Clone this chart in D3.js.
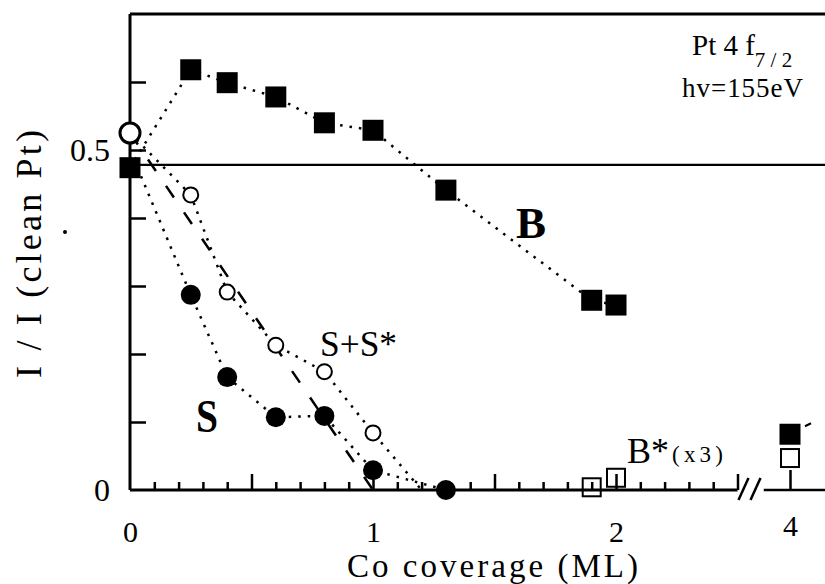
<!DOCTYPE html>
<html lang="en">
<head>
    <meta charset="UTF-8">
    <title>Pt 4f7/2 intensity vs Co coverage</title>
    <script src="https://d3js.org/d3.v7.min.js"></script>
    <style>
        body { margin: 0; background: #fff; }
        svg { display: block; }
        text { font-family: "Liberation Serif", "DejaVu Serif", serif; fill: #000; }
        .axis path { display: none; }
        .axis line { stroke: #000; stroke-width: 2.5; }
        .dotted { fill: none; stroke: #000; stroke-width: 2.5; stroke-dasharray: 2.5, 7; }
        .dashed { fill: none; stroke: #000; stroke-width: 2.5; stroke-dasharray: 14, 18; }
    </style>
</head>
<body>
    <script>
        // bulk component B (filled squares)
        const bCov = [0, 0.25, 0.4, 0.6, 0.8, 1.0, 1.3, 1.9, 2.0, 4];
        const bVal = [0.474, 0.618, 0.599, 0.578, 0.540, 0.529, 0.441, 0.279, 0.272, 0.082];
        // surface component S (filled circles), curve starts at 0
        const sCov = [0.25, 0.4, 0.6, 0.8, 1.0, 1.3];
        const sVal = [0.287, 0.166, 0.107, 0.109, 0.029, 0.0];
        const sCurveCov = [0, 0.25, 0.4, 0.6, 0.8, 1.0, 1.3];
        const sCurveVal = [0.5, 0.287, 0.166, 0.107, 0.109, 0.029, 0.0];
        // S+S* (open circles), dotted curve runs out to 1.2 ML
        const ssCov = [0, 0.25, 0.4, 0.6, 0.8, 1.0];
        const ssVal = [0.525, 0.434, 0.291, 0.213, 0.174, 0.084];
        const ssCurveCov = [0, 0.25, 0.4, 0.6, 0.8, 1.0, 1.2];
        const ssCurveVal = [0.525, 0.434, 0.291, 0.213, 0.174, 0.084, 0.0];
        // B* (open squares, x3)
        const bsCov = [1.9, 2.0, 4];
        const bsVal = [0.004, 0.018, 0.047];
        // dashed straight guide
        const guideCov = [0, 1.0];
        const guideVal = [0.525, 0.0];
        // reference level and ticks
        const refLevel = 0.478;
        const xLabels = [0, 1, 2, 4];
        const yLabels = [0, 0.5];

        const W = 825, H = 584;
        const svg = d3.select("body").append("svg")
            .attr("width", W)
            .attr("height", H);

        // broken axis: 0..2.5 linear, then jump to 4
        const x = d3.scaleLinear().domain([0, 2.5, 4]).range([130, 737.5, 790]);
        const y = d3.scaleLinear().domain([0, 0.7]).range([490, 14]);
        const x0 = x(0), yBase = y(0), yTop = y(0.7);

        // frame lines
        svg.append("line").attr("x1", x0).attr("x2", W).attr("y1", yTop).attr("y2", yTop)
            .attr("stroke", "#000").attr("stroke-width", 3);
        svg.append("line").attr("x1", x0).attr("x2", W).attr("y1", y(refLevel)).attr("y2", y(refLevel))
            .attr("stroke", "#000").attr("stroke-width", 2.2);
        svg.append("line").attr("x1", x0).attr("x2", x0).attr("y1", yTop).attr("y2", yBase)
            .attr("stroke", "#000").attr("stroke-width", 3);
        svg.append("line").attr("x1", x0).attr("x2", x(2.5)).attr("y1", yBase).attr("y2", yBase)
            .attr("stroke", "#000").attr("stroke-width", 3);
        svg.append("line").attr("x1", x(3.25)).attr("x2", W).attr("y1", yBase).attr("y2", yBase)
            .attr("stroke", "#000").attr("stroke-width", 2.5);

        // break marks
        [0, 12].forEach(off => {
            svg.append("line")
                .attr("x1", x(2.5) + 1 + off).attr("y1", yBase + 10)
                .attr("x2", x(2.5) + 11 + off).attr("y2", yBase - 12)
                .attr("stroke", "#000").attr("stroke-width", 2.5);
        });

        // bottom ticks, pointing inward
        const minor = d3.range(1, 26).map(i => i / 10).filter(v => Math.round(v * 10) % 5 !== 0);
        const major = [0.5, 1.0, 1.5, 2.0, 2.5];
        svg.append("g").attr("class", "axis").attr("transform", `translate(0,${yBase})`)
            .call(d3.axisTop(x).tickValues(minor).tickSize(8).tickFormat(""));
        svg.append("g").attr("class", "axis").attr("transform", `translate(0,${yBase})`)
            .call(d3.axisTop(x).tickValues(major).tickSize(16).tickFormat(""));
        svg.append("g").attr("class", "axis").attr("transform", `translate(0,${yBase})`)
            .call(d3.axisTop(x).tickValues([4]).tickSize(20).tickFormat(""));

        // left ticks, pointing inward
        svg.append("g").attr("class", "axis").attr("transform", `translate(${x0},0)`)
            .call(d3.axisRight(y).tickValues(d3.range(1, 7).map(i => i / 10)).tickSize(16).tickFormat(""));

        // tick labels
        const xl = svg.append("g").attr("class", "axis").attr("transform", `translate(0,${yBase})`)
            .call(d3.axisBottom(x).tickValues(xLabels).tickSize(0).tickPadding(31).tickFormat(d3.format("d")));
        xl.selectAll("text").attr("font-size", 30).attr("font-family", null);
        xl.selectAll(".tick").filter(d => d === 4).select("text").attr("dy", "0.5em");

        const yl = svg.append("g").attr("class", "axis").attr("transform", `translate(${x0},0)`)
            .call(d3.axisLeft(y).tickValues(yLabels).tickSize(0).tickPadding(20).tickFormat(d => d === 0 ? "0" : "0.5"));
        yl.selectAll("text").attr("font-size", 32).attr("font-family", null);

        // axis titles
        svg.append("text")
            .attr("x", 347).attr("y", 577)
            .attr("font-size", 33)
            .attr("textLength", 291).attr("lengthAdjust", "spacing")
            .text("Co coverage (ML)");
        svg.append("text")
            .attr("transform", "translate(41,254) rotate(-90)")
            .attr("text-anchor", "middle")
            .attr("font-size", 36)
            .attr("textLength", 248).attr("lengthAdjust", "spacing")
            .text("I / I (clean Pt)");
        svg.append("circle").attr("cx", 65).attr("cy", 232).attr("r", 2).attr("fill", "#000");

        // curves
        const line = d3.line().x(d => x(d[0])).y(d => y(d[1]));
        const pairs = (a, b) => a.map((v, i) => [v, b[i]]);

        svg.append("path").attr("class", "dotted")
            .attr("d", line(pairs(bCov.slice(0, 9), bVal.slice(0, 9))));
        svg.append("path").attr("class", "dotted")
            .attr("d", line(pairs(sCurveCov, sCurveVal)));
        svg.append("path").attr("class", "dotted")
            .attr("d", line(pairs(ssCurveCov, ssCurveVal)));
        svg.append("path").attr("class", "dashed")
            .attr("d", line(pairs(guideCov, guideVal)));

        // small stray dash next to the 4 ML point
        svg.append("line")
            .attr("x1", x(4) + 15).attr("y1", y(bVal[9]) - 8)
            .attr("x2", x(4) + 21).attr("y2", y(bVal[9]) - 11)
            .attr("stroke", "#000").attr("stroke-width", 2);

        // markers
        svg.selectAll("rect.b").data(pairs(bCov, bVal)).join("rect")
            .attr("class", "b")
            .attr("x", d => x(d[0]) - 10.5).attr("y", d => y(d[1]) - 10.5)
            .attr("width", 21).attr("height", 21)
            .attr("fill", "#000");

        svg.selectAll("rect.bs").data(pairs(bsCov, bsVal)).join("rect")
            .attr("class", "bs")
            .attr("x", d => x(d[0]) - 9).attr("y", d => y(d[1]) - 9)
            .attr("width", 18).attr("height", 18)
            .attr("fill", "none").attr("stroke", "#000").attr("stroke-width", 2);

        svg.selectAll("circle.s").data(pairs(sCov, sVal)).join("circle")
            .attr("class", "s")
            .attr("cx", d => x(d[0])).attr("cy", d => y(d[1]))
            .attr("r", 10).attr("fill", "#000");

        svg.selectAll("circle.ss").data(pairs(ssCov, ssVal)).join("circle")
            .attr("class", "ss")
            .attr("cx", d => x(d[0])).attr("cy", d => y(d[1]))
            .attr("r", (d, i) => i === 0 ? 10 : 7.5)
            .attr("fill", "#fff").attr("stroke", "#000")
            .attr("stroke-width", (d, i) => i === 0 ? 3 : 2);

        // series labels
        svg.append("text").attr("x", 516).attr("y", 238)
            .attr("font-size", 45).attr("font-weight", "bold").text("B");
        svg.append("text").attr("x", 196).attr("y", 432)
            .attr("font-size", 46).attr("font-weight", "bold")
            .attr("textLength", 22).attr("lengthAdjust", "spacingAndGlyphs").text("S");
        svg.append("text").attr("x", 320).attr("y", 356)
            .attr("font-size", 35).attr("textLength", 77).attr("lengthAdjust", "spacingAndGlyphs").text("S+S*");
        svg.append("text").attr("x", 627).attr("y", 463)
            .attr("font-size", 36).text("B*");
        svg.append("text").attr("x", 672).attr("y", 462)
            .attr("font-size", 23).attr("textLength", 51).attr("lengthAdjust", "spacing").text("(x3)");

        // photon energy note
        const note = svg.append("text").attr("x", 692).attr("y", 55).attr("font-size", 29);
        note.append("tspan").text("Pt 4 f");
        note.append("tspan").attr("font-size", 21).attr("dy", 12).text("7 / 2");
        svg.append("text").attr("x", 682).attr("y", 97)
            .attr("font-size", 27).attr("textLength", 121).attr("lengthAdjust", "spacing").text("hv=155eV");
    </script>
</body>
</html>
